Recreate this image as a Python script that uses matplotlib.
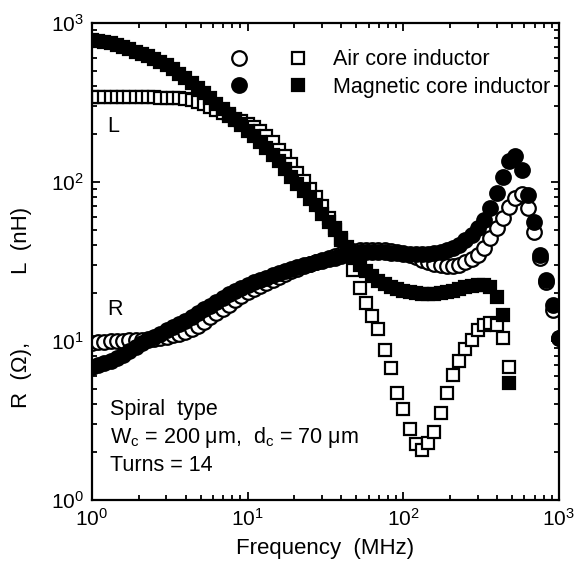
import numpy as np
import matplotlib
matplotlib.use('Agg')
import matplotlib.pyplot as plt
from matplotlib.legend_handler import HandlerTuple

plt.rcParams['font.family'] = ['Liberation Sans', 'DejaVu Sans']
plt.rcParams['mathtext.fontset'] = 'custom'
plt.rcParams['mathtext.rm'] = 'Liberation Sans'
plt.rcParams['mathtext.it'] = 'Liberation Sans:italic'
plt.rcParams['font.size'] = 15

#%% data
#-------------------------------------------------
freq = [1.00, 1.10, 1.20, 1.32, 1.45, 1.58, 1.74, 1.91, 2.09, 2.29,
        2.51, 2.75, 3.02, 3.31, 3.63, 3.98, 4.37, 4.79, 5.25, 5.75,
        6.31, 6.92, 7.59, 8.32, 9.12,
        10.0, 11.0, 12.0, 13.2, 14.5, 15.8, 17.4, 19.1, 20.9, 22.9,
        25.1, 27.5, 30.2, 33.1, 36.3, 39.8, 43.7, 47.9, 52.5, 57.5,
        63.1, 69.2, 75.9, 83.2, 91.2,
        100, 110, 120, 132, 145, 158, 174, 191, 209, 229,
        251, 275, 302, 331, 363, 398, 437, 479, 525, 575,
        631, 692, 759, 832, 912, 1000]

nan = np.nan

# inductance L (nH), air core (open squares)
L_air = [342, 340, 341, 339, 340, 341, 340, 339, 340, 341,
         339, 338, 338, 335, 335, 333, 328, 319, 310, 296,
         284, 272, 260, 249, 242, 232, 222, 209, 195, 178,
         159, 144, 130, 114, 101, 90, 80, 70, 59, 51,
         43, 36, 28, 21.5, 17.3, 14.4, 11.9, 8.8, 6.7, 4.7,
         3.7, 2.8, 2.25, 2.06, 2.28, 2.68, 3.5, 4.7, 6.1, 7.5,
         8.9, 10.1, 11.6, 12.6, 13.0, 12.6, 10.4, 6.8, nan, nan,
         nan, nan, nan, nan, nan, nan]

# inductance L (nH), magnetic core (filled squares)
L_mag = [782, 771, 760, 748, 728, 706, 686, 657, 638, 620,
         594, 569, 544, 514, 478, 451, 419, 390, 363, 338,
         309, 288, 268, 245, 228, 209, 195, 178, 164, 148,
         134, 121, 107, 97, 88, 78, 71, 63, 56, 50,
         44, 39, 34, 30, 27.5, 25.6, 23.8, 22.8, 21.9, 21.2,
         20.6, 20.3, 20.0, 19.8, 19.8, 19.8, 20.0, 20.3, 20.6, 21.2,
         21.9, 22.2, 22.5, 22.5, 21.9, 18.9, 14.6, 5.4, nan, nan,
         nan, nan, nan, nan, nan, nan]

# resistance R (ohm), air core (open circles)
R_air = [9.7, 9.8, 9.8, 9.9, 10.0, 10.0, 10.1, 10.1, 10.1, 10.3,
         10.3, 10.4, 10.6, 10.9, 11.1, 11.4, 11.9, 12.4, 13.2, 14.0,
         15.0, 15.9, 16.8, 18.1, 19.2, 20.3, 21.2, 22.2, 23.2, 24.2,
         25.3, 26.4, 27.6, 28.4, 29.6, 30.5, 31.4, 32.3, 33.3, 34.2,
         35.3, 36.3, 36.8, 37.4, 37.4, 37.4, 37.4, 37.4, 36.8, 36.3,
         35.7, 34.7, 33.8, 32.3, 31.4, 30.5, 30.1, 29.6, 29.6, 30.1,
         31.4, 32.8, 34.7, 38.5, 44.4, 51.4, 59.4, 69.6, 79.3, 84.1,
         68.6, 48.5, 33.3, 23.5, 15.7, 10.4]

# resistance R (ohm), magnetic core (filled circles)
R_mag = [6.86, 7.07, 7.27, 7.49, 7.82, 8.17, 8.65, 9.17, 9.71, 10.1,
         10.6, 11.1, 11.6, 12.2, 12.8, 13.4, 14.2, 15.0, 15.9, 16.6,
         17.6, 18.6, 19.8, 20.6, 21.5, 22.5, 23.5, 24.2, 24.9, 26.0,
         26.8, 27.6, 28.4, 29.2, 30.1, 30.5, 31.4, 31.9, 32.8, 33.3,
         34.2, 35.3, 35.7, 36.3, 36.3, 36.3, 36.3, 36.3, 35.7, 35.7,
         35.3, 35.3, 35.3, 35.3, 35.3, 35.7, 36.3, 37.4, 38.5, 40.2,
         43.2, 46.4, 51.4, 57.7, 68.6, 85.3, 107, 134, 144, 119,
         82.8, 56.0, 34.7, 24.2, 16.8, 10.4]

#%% plot
#-------------------------------------------------
fig = plt.figure(figsize=(5.78, 5.66), dpi=100, facecolor='w')
ax = fig.add_axes([0.159, 0.117, 0.808, 0.843])

sq = dict(marker='s', ms=8.5, ls='none', mew=1.6, color='k')
ci = dict(marker='o', ms=10.5, ls='none', mew=1.6, color='k')

h1, = ax.plot(freq, L_air, mfc='w', **sq)
h2, = ax.plot(freq, R_air, mfc='w', **ci)
h3, = ax.plot(freq, L_mag, mfc='k', **sq)
h4, = ax.plot(freq, R_mag, mfc='k', **ci)

ax.set_xscale('log')
ax.set_yscale('log')
ax.set_xlim(1, 1000)
ax.set_ylim(1, 1000)

for s in ax.spines.values():
    s.set_linewidth(1.6)
ax.tick_params(which='both', direction='in', top=True, right=True, width=1.3)
ax.tick_params(which='major', length=6, labelsize=15, pad=6)
ax.tick_params(which='minor', length=3.5)

ax.legend([(h2, h1), (h4, h3)], ['Air core inductor', 'Magnetic core inductor'],
          handler_map={tuple: HandlerTuple(ndivide=None, pad=1.3)},
          handlelength=4.1, handletextpad=0.95, labelspacing=0.3,
          frameon=False, loc='upper right', bbox_to_anchor=(1.0, 0.962),
          borderaxespad=0.0, fontsize=15.5)

ax.text(0.032, 0.782, 'L', transform=ax.transAxes, va='center', fontsize=15.5)
ax.text(0.032, 0.398, 'R', transform=ax.transAxes, va='center', fontsize=15.5)
ax.text(0.038, 0.189, 'Spiral  type', transform=ax.transAxes, va='center', fontsize=15.5)
ax.text(0.038, 0.130, r'W$_\mathregular{c}$ = 200 μm,  d$_\mathregular{c}$ = 70 μm',
        transform=ax.transAxes, va='center', fontsize=15.5)
ax.text(0.038, 0.071, 'Turns = 14', transform=ax.transAxes, va='center', fontsize=15.5)

ax.set_xlabel('Frequency  (MHz)', fontsize=16, labelpad=6)
fig.text(22/578, 1 - 375/566, 'R  (Ω),', rotation=90, ha='center', va='center', fontsize=16)
fig.text(22/578, 1 - 240/566, 'L  (nH)', rotation=90, ha='center', va='center', fontsize=16)

fig.savefig('out.png', dpi=100)
